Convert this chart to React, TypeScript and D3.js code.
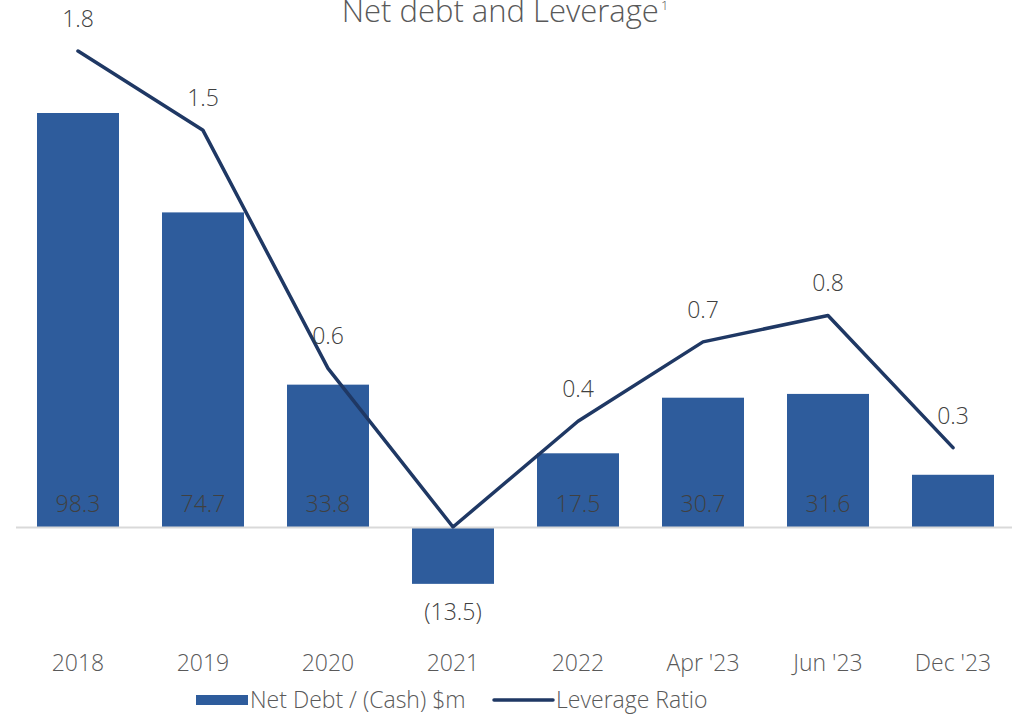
import React, { useEffect, useRef } from "react";
import * as d3 from "d3";

const categories = ["2018", "2019", "2020", "2021", "2022", "Apr '23", "Jun '23", "Dec '23"];
const netDebt = [98.3, 74.7, 33.8, -13.5, 17.5, 30.7, 31.6, 12.4];
// the Dec '23 bar has no label in the source picture
const netDebtLabels = ["98.3", "74.7", "33.8", "(13.5)", "17.5", "30.7", "31.6", ""];
const leverage = [1.8, 1.5, 0.6, 0.0, 0.4, 0.7, 0.8, 0.3];
const leverageLabels = ["1.8", "1.5", "0.6", "", "0.4", "0.7", "0.8", "0.3"];

const W = 1012;
const H = 714;
const FONT = "'Open Sans', 'Noto Sans', sans-serif";

const App: React.FC = () => {
  const svgRef = useRef<SVGSVGElement | null>(null);

  useEffect(() => {
    if (!svgRef.current) return;
    const svg = d3.select(svgRef.current);
    svg.selectAll("*").remove();

    const x = d3.scaleBand<string>().domain(categories).range([15.5, 1015.5]).paddingInner(0.344).paddingOuter(0.172);
    // both axes share the zero line
    const yBar = d3.scaleLinear().domain([0, 98.3]).range([527, 113]);
    const yLine = d3.scaleLinear().domain([0, 1.8]).range([527, 51]);

    const txt = (sel: any, size: number, color: string) =>
      sel.style("font-family", FONT).style("font-size", `${size}px`).style("font-weight", 300).style("fill", color);

    // title
    const title = txt(svg.append("text")
      .attr("x", 505).attr("y", 22)
      .attr("text-anchor", "middle"), 31, "#595959");
    title.append("tspan").text("Net debt and Leverage");
    title.append("tspan").attr("dx", 2).attr("dy", -12).style("font-size", "13px").text("1");

    // bars
    svg.append("g").selectAll("rect")
      .data(netDebt)
      .join("rect")
      .attr("x", (_, i) => x(categories[i]) ?? 0)
      .attr("width", x.bandwidth())
      .attr("y", (d) => yBar(Math.max(0, d)))
      .attr("height", (d) => Math.abs(yBar(d) - yBar(0)))
      .attr("fill", "#2E5C9C");

    // zero line
    svg.append("line")
      .attr("x1", 16).attr("x2", 1012)
      .attr("y1", yBar(0) + 0.5).attr("y2", yBar(0) + 0.5)
      .attr("stroke", "#d9d9d9").attr("stroke-width", 2);

    // bar labels
    txt(svg.append("g").selectAll("text")
      .data(netDebt)
      .join("text")
      .attr("x", (_, i) => (x(categories[i]) ?? 0) + x.bandwidth() / 2)
      .attr("y", (d) => (d >= 0 ? yBar(0) - 15 : yBar(d) + 36))
      .attr("text-anchor", "middle"), 23, "#404040")
      .text((_, i) => netDebtLabels[i]);

    // leverage line
    const line = d3.line<number>()
      .x((_, i) => (x(categories[i]) ?? 0) + x.bandwidth() / 2)
      .y((d) => yLine(d));
    svg.append("path")
      .datum(leverage)
      .attr("d", line)
      .attr("fill", "none")
      .attr("stroke", "#1F3864")
      .attr("stroke-width", 3.5)
      .attr("stroke-linejoin", "round")
      .attr("stroke-linecap", "round");

    txt(svg.append("g").selectAll("text")
      .data(leverage)
      .join("text")
      .attr("x", (_, i) => (x(categories[i]) ?? 0) + x.bandwidth() / 2)
      .attr("y", (d) => yLine(d) - 24)
      .attr("text-anchor", "middle"), 23, "#404040")
      .text((_, i) => leverageLabels[i]);

    // category axis labels
    txt(svg.append("g").selectAll("text")
      .data(categories)
      .join("text")
      .attr("x", (d) => (x(d) ?? 0) + x.bandwidth() / 2)
      .attr("y", 671)
      .attr("text-anchor", "middle"), 23, "#595959")
      .text((d) => d);

    // legend
    const legend = svg.append("g");
    legend.append("rect").attr("x", 196).attr("y", 695).attr("width", 52).attr("height", 10).attr("fill", "#2E5C9C");
    txt(legend.append("text").attr("x", 250).attr("y", 708), 23, "#595959")
      .text("Net Debt / (Cash) $m");
    legend.append("line").attr("x1", 494).attr("x2", 553).attr("y1", 700).attr("y2", 700)
      .attr("stroke", "#1F3864").attr("stroke-width", 3.5).attr("stroke-linecap", "round");
    txt(legend.append("text").attr("x", 556).attr("y", 708), 23, "#595959")
      .text("Leverage Ratio");
  }, []);

  return (
    <svg ref={svgRef} width={W} height={H}
      style={{ position: "absolute", left: 0, top: 0, background: "#fff" }} />
  );
};

export default App;
